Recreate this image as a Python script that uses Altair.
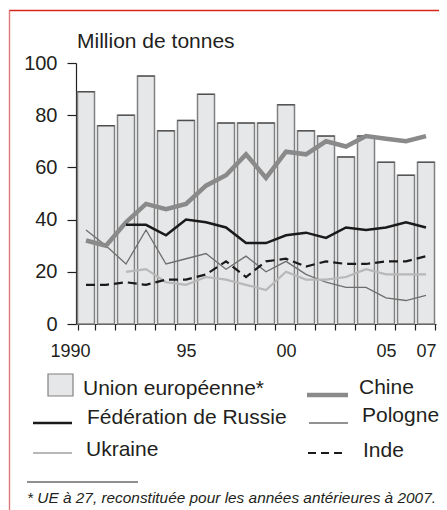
import altair as alt
import pandas as pd

# ---------------- data ----------------
years = list(range(1990, 2008))
ue = [89, 76, 80, 95, 74, 78, 88, 77, 77, 77, 84, 74, 72, 64, 72, 62, 57, 62]
chine = [32, 30, 39, 46, 44, 46, 53, 57, 65, 56, 66, 65, 70, 68, 72, 71, 70, 72]
russie = [None, None, 38, 38, 34, 40, 39, 37, 31, 31, 34, 35, 33, 37, 36, 37, 39, 37]
pologne = [36, 30, 23, 36, 23, 25, 27, 21, 26, 20, 24, 19, 16, 14, 14, 10, 9, 11]
ukraine = [None, None, 20, 21, 16, 15, 18, 17, 15, 13, 20, 17, 17, 18, 21, 19, 19, 19]
inde = [15, 15, 16, 15, 17, 17, 19, 24, 18, 24, 25, 22, 24, 23, 23, 24, 24, 26]
y_ticks = [0, 20, 40, 60, 80, 100]
x_labels = {1990: "1990", 1995: "95", 2000: "00", 2005: "05", 2007: "07"}

FONT = "Liberation Sans"
INK = "#231f20"

W, H = 360, 261

label_expr = " : ".join(
    f"datum.value == {k} ? '{v}'" for k, v in x_labels.items()
) + " : ''"

xenc = alt.X(
    "year:O",
    scale=alt.Scale(paddingInner=0.15, paddingOuter=0.075),
    axis=alt.Axis(
        title=None, labelAngle=0, tickBand="extent", tickSize=6,
        labelExpr=label_expr, labelFontSize=18, labelFont=FONT,
        labelColor=INK, labelPadding=12, domainColor=INK, tickColor=INK,
        domainWidth=1.2, tickWidth=1.2,
        labelOffset={"condition": {"test": "datum.value == 1990", "value": -16}, "value": 0},
    ),
)
yenc = alt.Y(
    "v:Q",
    scale=alt.Scale(domain=[0, 100], nice=False),
    axis=alt.Axis(
        title=None, values=y_ticks, tickSize=9, labelFontSize=20, labelFont=FONT,
        labelColor=INK, labelPadding=10, domainColor=INK, tickColor=INK,
        domainWidth=1.2, tickWidth=1.2, grid=False,
    ),
)

df_ue = pd.DataFrame({"year": years, "v": ue})
bars = alt.Chart(df_ue).mark_bar(
    fill="#e6e7e9", stroke="#808080", strokeWidth=1.5
).encode(x=xenc, y=yenc)
tops = alt.Chart(df_ue).mark_tick(
    orient="horizontal", color="#3a3a3a", thickness=1.3, size=17
).encode(x="year:O", y="v:Q")


def series(vals, color, width, dash=None):
    d = pd.DataFrame({"year": years, "v": vals}).dropna()
    kw = dict(color=color, strokeWidth=width, strokeJoin="miter")
    if dash:
        kw["strokeDash"] = dash
    return alt.Chart(d).mark_line(**kw).encode(x="year:O", y="v:Q")


lines = [
    series(pologne, "#6e6e6e", 1.3),
    series(ukraine, "#b8b8b8", 2.2),
    series(inde, "#1a1a1a", 2.2, [9, 5]),
    series(chine, "#8a8a8a", 4.5),
    series(russie, "#1a1a1a", 2.5),
]

X0, Y0 = 76, 63  # plot origin on the page
TOTAL_W, TOTAL_H = 431, 502


def txt(s, x, y, size=21, italic=False):
    return alt.Chart(pd.DataFrame({"t": [s]})).mark_text(
        align="left", baseline="alphabetic", font=FONT, fontSize=size,
        fontStyle="italic" if italic else "normal", color=INK,
    ).encode(x=alt.value(x - X0), y=alt.value(y - Y0), text="t:N")


def hline(x1, x2, y, color, width, dash=None):
    kw = dict(color=color, strokeWidth=width)
    if dash:
        kw["strokeDash"] = dash
    return alt.Chart(pd.DataFrame({"a": [0]})).mark_rule(**kw).encode(
        x=alt.value(x1 - X0), x2=alt.value(x2 - X0), y=alt.value(y - Y0)
    )


def vline(x, y1, y2, color, width):
    return alt.Chart(pd.DataFrame({"a": [0]})).mark_rule(color=color, strokeWidth=width).encode(
        x=alt.value(x - X0), y=alt.value(y1 - Y0), y2=alt.value(y2 - Y0)
    )


box = alt.Chart(pd.DataFrame({"a": [0]})).mark_rect(
    fill="#e6e7e9", stroke="#808080", strokeWidth=1.2
).encode(
    x=alt.value(48 - X0), x2=alt.value(73 - X0),
    y=alt.value(374 - Y0), y2=alt.value(396 - Y0),
)

annot = [
    hline(9, 460, 10.5, "#d9261c", 1.6),
    vline(9.5, 10.5, 520, "#e07a7a", 1.4),
    txt("Million de tonnes", 77, 48),
    box,
    txt("Union européenne*", 83, 395),
    hline(307, 348, 395, "#8a8a8a", 4.5),
    txt("Chine", 359, 394),
    hline(33, 72, 423, "#1a1a1a", 2.5),
    txt("Fédération de Russie", 87, 424),
    hline(309, 348, 423, "#6e6e6e", 1.3),
    txt("Pologne", 362, 422),
    hline(33, 72, 453, "#b8b8b8", 2.2),
    txt("Ukraine", 86, 456),
    hline(308, 343, 453, "#1a1a1a", 2.2, [8, 5]),
    txt("Inde", 363, 457),
    hline(27, 138, 482, INK, 1),
    txt("* UE à 27, reconstituée pour les années antérieures à 2007.", 27, 503, size=15.4, italic=True),
]

chart = alt.layer(bars, tops, *lines, *annot).properties(
    width=W, height=H,
    autosize=alt.AutoSizeParams(type="none"),
    padding={"left": X0 - 8, "top": Y0 - 8, "right": TOTAL_W - (X0 - 8) - W,
             "bottom": TOTAL_H - (Y0 - 8) - H},
    background="white",
).configure_view(stroke=None)

chart.save("out.html", embed_options={"renderer": "svg", "actions": False})
